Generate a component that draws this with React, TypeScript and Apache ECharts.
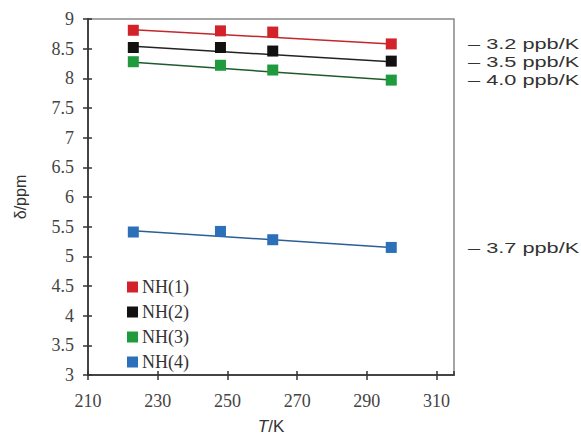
import React, { useEffect, useRef } from "react";
import * as echarts from "echarts";

// Temperatures (K) of the measured points
const temps = [223, 248, 263, 297];
// Chemical shifts (ppm) per amide proton
const nh1 = [8.81, 8.8, 8.78, 8.58];
const nh2 = [8.52, 8.52, 8.46, 8.29];
const nh3 = [8.28, 8.22, 8.14, 7.97];
const nh4 = [5.41, 5.42, 5.28, 5.15];
// Fitted line endpoints (ppm) at first / last temperature
const fitStart = [8.82, 8.54, 8.27, 5.43];
const fitEnd = [8.58, 8.28, 7.97, 5.15];
// Temperature coefficients
const coeffs = ["\u2013 3.2 ppb/K", "\u2013 3.5 ppb/K", "\u2013 4.0 ppb/K", "\u2013 3.7 ppb/K"];
const names = ["NH(1)", "NH(2)", "NH(3)", "NH(4)"];
const markerColors = ["#d2232a", "#111111", "#1f9a3c", "#2b70b9"];
const lineColors = ["#c0282e", "#222222", "#1d5a2c", "#2a5f95"];
const yTicks = { min: 3, max: 9, step: 0.5 };
const xOrigin = 210; // first x tick label
const xSpan = 105;
const xStep = 20;

const SANS = "Liberation Sans, Arial, sans-serif";
const SERIF = "Liberation Serif, Times New Roman, serif";

export default function App() {
  const ref = useRef<HTMLDivElement>(null);
  useEffect(() => {
    document.body.style.margin = "0";
    const chart = echarts.init(ref.current!, null, { renderer: "svg" });
    const all = [nh1, nh2, nh3, nh4];
    const series: any[] = [];
    all.forEach((vals, i) => {
      series.push({
        name: names[i] + " fit",
        type: "line",
        data: [
          [temps[0] - xOrigin, fitStart[i]],
          [temps[temps.length - 1] - xOrigin, fitEnd[i]],
        ],
        showSymbol: false,
        lineStyle: { color: lineColors[i], width: 1.5 },
        itemStyle: { color: lineColors[i] },
        z: 2,
        silent: true,
      });
    });
    all.forEach((vals, i) => {
      series.push({
        name: names[i],
        type: "scatter",
        data: temps.map((t, j) => [t - xOrigin, vals[j]]),
        symbol: "rect",
        symbolSize: 11,
        itemStyle: { color: markerColors[i], opacity: 1 },
        z: 3,
      });
    });

    const labelStyle = {
      fontFamily: SERIF,
      fontSize: 18,
      color: "#444",
    };

    chart.setOption({
      animation: false,
      backgroundColor: "#fff",
      grid: {
        left: 88,
        right: 127,
        top: 19,
        bottom: 60,
        show: true,
        borderColor: "#888",
        borderWidth: 1.5,
        backgroundColor: "transparent",
      },
      legend: {
        orient: "vertical",
        left: 127,
        top: 278,
        padding: 0,
        itemWidth: 11,
        itemHeight: 11,
        itemGap: 7,
        icon: "rect",
        data: names.map((n, i) => ({ name: n, itemStyle: { color: markerColors[i], opacity: 1 } })),
        textStyle: { fontFamily: SERIF, fontSize: 18, color: "#333", padding: [0, 0, 0, -1] },
        selectedMode: false,
      },
      xAxis: [
        {
          type: "value",
          min: 0,
          max: xSpan,
          interval: xStep,
          name: "{i|T}/K",
          nameLocation: "middle",
          nameGap: 43,
          nameTextStyle: {
            fontFamily: SANS,
            fontSize: 17,
            color: "#333",
            rich: {
              i: { fontStyle: "italic", fontFamily: SANS, fontSize: 17, color: "#333" },
            },
          },
          axisLine: { show: true, onZero: false, lineStyle: { color: "#444", width: 2 } },
          axisTick: { show: true, inside: false, length: 5, lineStyle: { color: "#333", width: 1.5 } },
          axisLabel: {
            ...labelStyle,
            margin: 17,
            showMaxLabel: false,
            formatter: (v: number) => (v % xStep === 0 ? String(v + xOrigin) : ""),
          },
          splitLine: { show: false },
        },
        {
          type: "value",
          position: "bottom",
          min: 0,
          max: xSpan,
          interval: xStep,
          axisLine: { show: false },
          axisTick: { show: true, inside: true, length: 4, lineStyle: { color: "#333", width: 1.5 } },
          axisLabel: { show: false },
          splitLine: { show: false },
        },
      ],
      yAxis: [
        {
          type: "value",
          min: yTicks.min,
          max: yTicks.max,
          interval: yTicks.step,
          name: "\u03b4/ppm",
          nameLocation: "middle",
          nameGap: 60,
          nameTextStyle: { fontFamily: SANS, fontSize: 16, color: "#333" },
          axisLine: { show: true, onZero: false, lineStyle: { color: "#444", width: 2 } },
          axisTick: { show: true, inside: false, length: 5, lineStyle: { color: "#333", width: 1.5 } },
          axisLabel: { ...labelStyle, margin: 14 },
          splitLine: { show: false },
        },
        {
          type: "value",
          position: "left",
          min: yTicks.min,
          max: yTicks.max,
          interval: yTicks.step,
          axisLine: { show: false },
          axisTick: { show: true, inside: true, length: 4, lineStyle: { color: "#333", width: 1.5 } },
          axisLabel: { show: false },
          splitLine: { show: false },
        },
      ],
      series,
    });

    // Coefficient annotations, placed at each fit line's end value, right of the frame
    const xRight = chart.convertToPixel({ xAxisIndex: 0 }, xSpan) as number;
    const graphic = fitEnd.map((v, i) => {
      const y = chart.convertToPixel({ yAxisIndex: 0 }, v) as number;
      return {
        type: "text",
        x: xRight + 14,
        y,
        scaleX: 1.45,
        style: {
          text: coeffs[i],
          fontFamily: SANS,
          fontSize: 15,
          fill: "#333",
          verticalAlign: "middle",
          align: "left",
        },
      };
    });
    chart.setOption({ graphic });
    return () => chart.dispose();
  }, []);
  return <div ref={ref} style={{ width: 581, height: 440 }} />;
}
